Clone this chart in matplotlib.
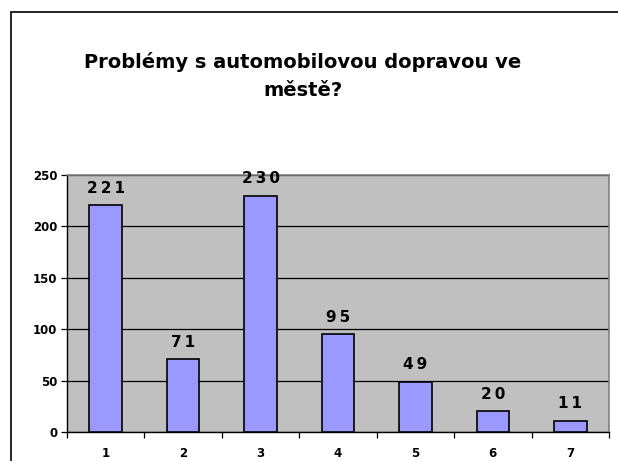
import matplotlib.pyplot as plt
from matplotlib.patches import Rectangle

# Data
kategorie = ['1', '2', '3', '4', '5', '6', '7']
hodnoty = [221, 71, 230, 95, 49, 20, 11]
y_ticks = [0, 50, 100, 150, 200, 250]

fig = plt.figure(figsize=(6.18, 4.61), dpi=100)
fig.patch.set_facecolor('white')

# rámeček grafu (jen horní a levá hrana jsou vidět)
fig.patches.append(Rectangle((11 / 618, -0.1), 1.2, (461 - 12) / 461 + 0.1,
                             transform=fig.transFigure, fill=False,
                             edgecolor='black', linewidth=1.2))

ax = fig.add_axes([67 / 618, 29 / 461, 542 / 618, 257 / 461])
ax.set_facecolor('#C0C0C0')

x = list(range(len(kategorie)))
ax.bar(x, hodnoty, width=0.42, color='#9999FF', edgecolor='black',
       linewidth=1.2, zorder=3)

for xi, v in zip(x, hodnoty):
    ax.text(xi, v + 9, '\u2009'.join(str(v)), ha='center', va='bottom',
            fontsize=11, fontweight='bold', zorder=4)

ax.set_xlim(-0.5, len(kategorie) - 0.5)
ax.set_ylim(0, 250)
ax.set_yticks(y_ticks)
ax.set_yticklabels([str(t) for t in y_ticks], fontsize=8.5, fontweight='bold')
ax.yaxis.grid(True, color='black', linewidth=0.9, zorder=0)
ax.set_axisbelow(True)

ax.set_xticks(x)
ax.set_xticklabels(kategorie, fontsize=8.5, fontweight='bold')
ax.tick_params(axis='x', length=0, pad=11)
ax.set_xticks([i - 0.5 for i in range(len(kategorie) + 1)], minor=True)
ax.tick_params(axis='x', which='minor', length=4, direction='out', width=0.9)
ax.tick_params(axis='y', length=4, direction='out', width=0.9, pad=3)

for s in ['top', 'right']:
    ax.spines[s].set_color('#808080')
    ax.spines[s].set_linewidth(1.2)
ax.spines['left'].set_linewidth(1.0)
ax.spines['bottom'].set_linewidth(1.0)

fig.text(303 / 618, 1 - 62 / 461, 'Problémy s automobilovou dopravou ve',
         ha='center', va='center', fontsize=14, fontweight='bold')
fig.text(303 / 618, 1 - 90 / 461, 'městě?',
         ha='center', va='center', fontsize=14, fontweight='bold')

plt.savefig('out.png', dpi=100)
